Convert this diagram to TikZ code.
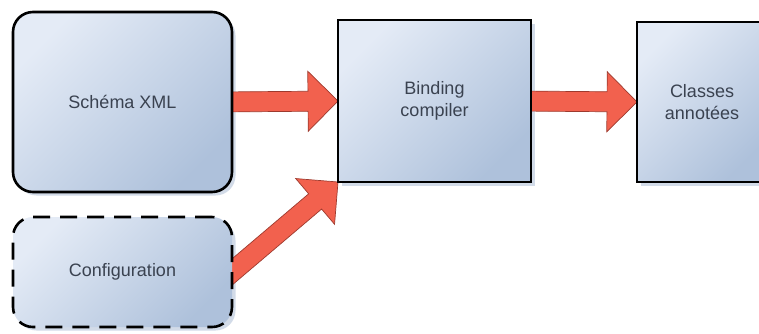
\documentclass[tikz,border=0pt]{standalone}
\usepackage{fontspec}
\setmainfont{Liberation Sans}
\usetikzlibrary{calc}
\definecolor{boxlight}{HTML}{E4EBF6}
\definecolor{boxdark}{HTML}{AEC1DB}
\definecolor{arrowred}{HTML}{F2614E}
\definecolor{arrowedge}{HTML}{9E3A2E}
\definecolor{txtc}{HTML}{3A4250}
\definecolor{shadowc}{HTML}{D2DBE8}
\pgfdeclarelayer{bg}
\pgfsetlayers{bg,main}
\newcommand\bigarrow[2]{%
  \coordinate (ba-h) at ($(#2)!30pt!(#1)$);
  \filldraw[blockarrow] ($(#1)!10pt!90:(#2)$) -- ($(ba-h)!10pt!-90:(#1)$)
    -- ($(ba-h)!30pt!-90:(#1)$) -- (#2) -- ($(ba-h)!30pt!90:(#1)$)
    -- ($(ba-h)!10pt!90:(#1)$) -- ($(#1)!10pt!-90:(#2)$) -- cycle;}
\newcommand\boxshadow[2]{%
  \fill[boxshadow, #2] ($(#1.north west)+(3.5,3.5)$) rectangle ($(#1.south east)+(3.5,3.5)$);}
\begin{document}
\begin{tikzpicture}[x=1pt,y=-1pt,
  box/.style={draw=black, line width=2.6pt, top color=boxlight, bottom color=boxdark,
    shading angle=45, text=txtc, font=\fontsize{18}{22}\selectfont, align=center,
    inner sep=0pt, outer sep=0pt},
  roundbox/.style={box, rounded corners=20pt},
  dashbox/.style={roundbox, dash pattern=on 17pt off 10pt},
  boxshadow/.style={fill=shadowc},
  blockarrow/.style={fill=arrowred, draw=arrowedge, line width=0.7pt, line join=miter}]
\useasboundingbox (0,0) rectangle (759,333);
\clip (0,0) rectangle (759,333);
\node[roundbox, minimum width=219pt, minimum height=180pt] (schema) at (122.5,102) {Schéma XML};
\node[dashbox, minimum width=219pt, minimum height=110pt] (cfg) at (122.5,272) {Configuration};
\node[box, minimum width=193pt, minimum height=162pt] (bind) at (434.5,101) {Binding\\compiler};
\node[box, minimum width=130pt, minimum height=160pt] (cls) at (702,102) {Classes\\annotées};
\begin{pgfonlayer}{bg}
  \fill[white] (0,0) rectangle (759,333);
  \boxshadow{schema}{rounded corners=20pt}
  \boxshadow{cfg}{rounded corners=20pt}
  \boxshadow{bind}{}
  \boxshadow{cls}{}
  \coordinate (t1) at ($(schema.east)+(-12,0)$);
  \coordinate (t2) at ($(bind.east)+(-12,0)$);
  \coordinate (t3) at ($(cfg.east)!-22pt!(bind.south west)$);
  \bigarrow{t1}{bind.west}
  \bigarrow{t2}{cls.west}
  \bigarrow{t3}{bind.south west}
\end{pgfonlayer}
\end{tikzpicture}
\end{document}
